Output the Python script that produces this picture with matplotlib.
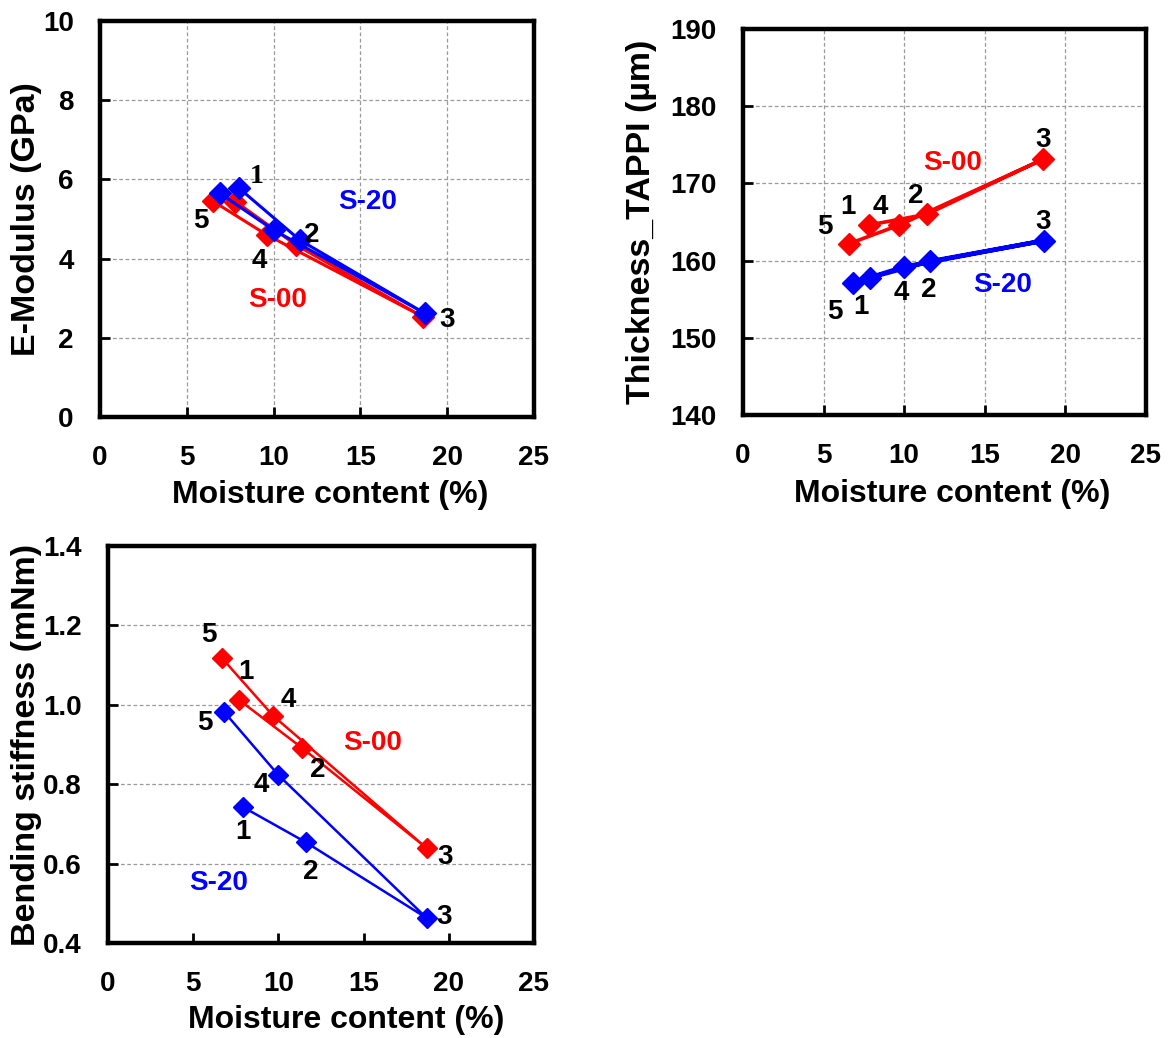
import matplotlib

matplotlib.use("Agg")
import matplotlib.pyplot as plt  # noqa: E402

plt.rcParams["font.family"] = ["Liberation Sans", "DejaVu Sans"]
plt.rcParams["font.weight"] = "bold"

RED = "#ff0000"
BLUE = "#0000ff"

# conditioning order 1 -> 2 -> 3 -> 4 -> 5
point_ids = ["1", "2", "3", "4", "5"]

# E-modulus (GPa) vs moisture content (%)
emod_moist_s00 = [7.8, 11.3, 18.6, 9.6, 6.5]
emod_s00 = [5.44, 4.34, 2.53, 4.60, 5.45]
emod_moist_s20 = [8.0, 11.5, 18.7, 10.0, 6.9]
emod_s20 = [5.78, 4.47, 2.62, 4.72, 5.65]

# Thickness TAPPI (um)
thick_moist_s00 = [7.8, 11.4, 18.6, 9.7, 6.6]
thick_s00 = [164.6, 166.0, 173.1, 164.6, 162.2]
thick_moist_s20 = [7.9, 11.6, 18.7, 10.0, 6.8]
thick_s20 = [157.8, 159.9, 162.6, 159.2, 157.1]

# Bending stiffness (mNm)
bend_moist_s00 = [7.7, 11.4, 18.7, 9.7, 6.7]
bend_s00 = [1.012, 0.891, 0.639, 0.972, 1.117]
bend_moist_s20 = [7.9, 11.6, 18.7, 10.0, 6.8]
bend_s20 = [0.743, 0.654, 0.463, 0.823, 0.983]

# point-number annotations: (text, x, y)
emod_labels = [("5", 5.8, 4.95), ("4", 9.2, 3.95), ("2", 12.2, 4.6), ("3", 20.0, 2.45)]
thick_labels = [
    ("5", 5.1, 164.4), ("1", 6.5, 167.0), ("4", 8.5, 167.0), ("2", 10.7, 168.3), ("3", 18.6, 175.6),
    ("5", 5.7, 153.4), ("1", 7.3, 154.0), ("4", 9.8, 155.8), ("2", 11.5, 156.2), ("3", 18.6, 165.0),
]
bend_labels = [
    ("5", 5.9, 1.175), ("1", 8.1, 1.083), ("4", 10.6, 1.012), ("2", 12.3, 0.836), ("3", 19.8, 0.617),
    ("5", 5.7, 0.953), ("4", 9.0, 0.798), ("1", 7.9, 0.680), ("2", 11.9, 0.580), ("3", 19.7, 0.466),
]

fig = plt.figure(figsize=(11.7, 10.38), dpi=100)


def style_axis(ax, ylim, yticks, ylabel, ylabel_x, xlabel_xy, vgrid=True):
    ax.set_xlim(0, 25)
    ax.set_xticks(range(0, 26, 5))
    ax.set_ylim(*ylim)
    ax.set_yticks(yticks)
    for spine in ax.spines.values():
        spine.set_linewidth(3.2)
    ax.tick_params(direction="in", length=7, width=2, labelsize=20)
    ax.tick_params(axis="x", pad=20)
    ax.tick_params(axis="y", pad=19)
    ax.grid(axis="y", color="#9a9a9a", linestyle=(0, (3, 2)), linewidth=0.9)
    if vgrid:
        ax.grid(axis="x", color="#9a9a9a", linestyle=(0, (3, 2)), linewidth=0.9)
    ax.set_axisbelow(True)
    ax.set_ylabel(ylabel, fontsize=24.5, fontweight="bold")
    ax.yaxis.set_label_coords(ylabel_x, 0.5)
    ax.set_xlabel("Moisture content (%)", fontsize=23, fontweight="bold")
    ax.xaxis.set_label_coords(*xlabel_xy)


def add_labels(ax, labels):
    for text, x, y in labels:
        ax.text(x, y, text, fontsize=20, fontweight="bold", ha="center", va="center")


# --- E-modulus -------------------------------------------------------------
ax1 = fig.add_axes([0.0855, 0.5983, 0.3709, 0.3815])
ax1.plot(emod_moist_s00, emod_s00, color=RED, marker="D", markersize=11, linewidth=2.2)
ax1.plot(emod_moist_s20, emod_s20, color=BLUE, marker="D", markersize=11, linewidth=2.2)
style_axis(ax1, (0, 10), range(0, 11, 2), "E-Modulus (GPa)", -0.134, (0.53, -0.16))
add_labels(ax1, emod_labels)
ax1.text(9.0, 6.07, "1", fontsize=20, fontweight="bold", family="Liberation Serif",
         ha="center", va="center")
ax1.text(15.4, 5.44, "S-20", color=BLUE, fontsize=20, fontweight="bold", ha="center", va="center")
ax1.text(10.2, 2.95, "S-00", color=RED, fontsize=20, fontweight="bold", ha="center", va="center")

# --- Thickness -------------------------------------------------------------
ax2 = fig.add_axes([0.635, 0.6002, 0.3444, 0.3719])
ax2.plot(thick_moist_s00, thick_s00, color=RED, marker="D", markersize=11, linewidth=2.6)
ax2.plot(thick_moist_s20, thick_s20, color=BLUE, marker="D", markersize=11, linewidth=3.2)
style_axis(ax2, (140, 190), range(140, 191, 10), "Thickness_TAPPI (µm)", -0.213, (0.52, -0.165))
add_labels(ax2, thick_labels)
ax2.text(13.0, 172.6, "S-00", color=RED, fontsize=20, fontweight="bold", ha="center", va="center")
ax2.text(16.1, 156.8, "S-20", color=BLUE, fontsize=20, fontweight="bold", ha="center", va="center")

# --- Bending stiffness -----------------------------------------------------
ax3 = fig.add_axes([0.0923, 0.0915, 0.3641, 0.3825])
ax3.plot(bend_moist_s00, bend_s00, color=RED, marker="D", markersize=10, linewidth=1.8)
ax3.plot(bend_moist_s20, bend_s20, color=BLUE, marker="D", markersize=10, linewidth=1.8)
style_axis(ax3, (0.4, 1.4), [0.4, 0.6, 0.8, 1.0, 1.2, 1.4], "Bending stiffness (mNm)", -0.155,
           (0.56, -0.155), vgrid=False)
ax3.yaxis.set_major_formatter(matplotlib.ticker.FormatStrFormatter("%.1f"))
add_labels(ax3, bend_labels)
ax3.text(15.5, 0.903, "S-00", color=RED, fontsize=20, fontweight="bold", ha="center", va="center")
ax3.text(6.5, 0.55, "S-20", color=BLUE, fontsize=20, fontweight="bold", ha="center", va="center")

fig.savefig("out.png", dpi=100)
